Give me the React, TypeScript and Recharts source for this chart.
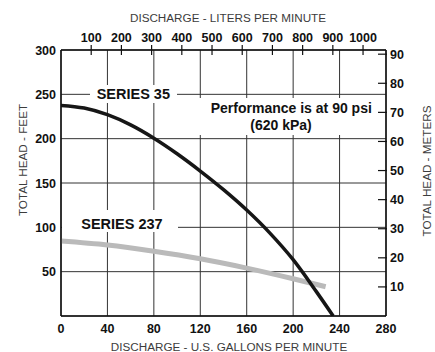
import { ComposedChart, Line, XAxis, YAxis, CartesianGrid } from "recharts";

// axis ticks
const gpmTicks = [0, 40, 80, 120, 160, 200, 240, 280];
const lpmTicks = [100, 200, 300, 400, 500, 600, 700, 800, 900, 1000];
const feetTicks = [50, 100, 150, 200, 250, 300];
const meterTicks = [10, 20, 30, 40, 50, 60, 70, 80, 90];

// pump curves (GPM vs head in feet)
const series35Gpm = [0, 20, 40, 60, 80, 100, 120, 140, 160, 180, 200, 220, 234.5];
const series35Head = [237.5, 234.5, 227, 215.5, 200.5, 183, 163.5, 142.5, 119.5, 93.5, 63.5, 27.5, 0];
const series237Gpm = [0, 40, 80, 120, 160, 200, 228];
const series237Head = [84.5, 80, 73, 64.5, 54, 42, 33];

const series35 = series35Gpm.map((g, i) => ({ gpm: g, head: series35Head[i] }));
const series237 = series237Gpm.map((g, i) => ({ gpm: g, head: series237Head[i] }));

const FONT = '"Liberation Sans", Arial, sans-serif';
const tickStyle = { fontFamily: FONT, fontSize: 12.5, fontWeight: 700, fill: "#111" };
const titleStyle = { fontFamily: FONT, fontSize: 11.7, fill: "#3c3c3c" };
const noteStyle = { fontFamily: FONT, fontSize: 14.5, fontWeight: 700, fill: "#111" };

const BottomTick = (props: any) => (
  <text x={props.x} y={props.y + 16.5} textAnchor="middle" style={tickStyle}>
    {props.payload.value}
  </text>
);

const TopTick = (props: any) => (
  <g>
    <line x1={props.x} x2={props.x} y1={props.y - 5} y2={props.y + 5} stroke="#111" strokeWidth={1.2} />
    <text x={props.x} y={props.y - 8} textAnchor="middle" style={tickStyle}>
      {props.payload.value}
    </text>
  </g>
);

const LeftTick = (props: any) => (
  <text x={props.x - 5} y={props.y + 4.5} textAnchor="end" style={tickStyle}>
    {props.payload.value}
  </text>
);

const RightTick = (props: any) => (
  <g>
    <line x1={props.x - 8} x2={props.x + 1} y1={props.y} y2={props.y} stroke="#111" strokeWidth={1.2} />
    <text x={props.x + 4} y={props.y + 4.5} textAnchor="start" style={tickStyle}>
      {props.payload.value}
    </text>
  </g>
);

export default function App() {
  const axisLine = { stroke: "#111", strokeWidth: 1.5 };
  return (
    <div style={{ position: "fixed", left: 0, top: 0, background: "#fff" }}>
      <ComposedChart width={435} height={352} margin={{ top: 30, right: 19, bottom: 16, left: 21 }}>
        <CartesianGrid stroke="#333" strokeWidth={1} />
        <XAxis
          dataKey="gpm"
          type="number"
          domain={[0, 280]}
          ticks={gpmTicks}
          interval={0}
          allowDataOverflow
          height={20}
          tickSize={0}
          tickMargin={0}
          tickLine={false}
          axisLine={axisLine}
          tick={BottomTick}
        />
        {/* litre scale as printed on the sheet (slightly off 3.785) */}
        <XAxis
          xAxisId="lpm"
          dataKey="lpm"
          orientation="top"
          type="number"
          domain={[0, 1076]}
          ticks={lpmTicks}
          interval={0}
          allowDataOverflow
          height={20}
          tickSize={0}
          tickMargin={0}
          tickLine={false}
          axisLine={axisLine}
          tick={TopTick}
        />
        <YAxis
          type="number"
          domain={[0, 300]}
          ticks={feetTicks}
          interval={0}
          allowDataOverflow
          width={40}
          tickSize={0}
          tickMargin={0}
          tickLine={false}
          axisLine={axisLine}
          tick={LeftTick}
        />
        <YAxis
          yAxisId="m"
          orientation="right"
          type="number"
          domain={[0, 300 * 0.3048]}
          ticks={meterTicks}
          interval={0}
          allowDataOverflow
          width={30}
          tickSize={0}
          tickMargin={0}
          tickLine={false}
          axisLine={axisLine}
          tick={RightTick}
        />

        <rect x={90} y={85} width={87} height={18} fill="#fff" />
        <text x={133.3} y={99} textAnchor="middle" style={noteStyle}>SERIES 35</text>
        <rect x={62} y={210} width={116} height={22} fill="#fff" />
        <text x={122} y={229.3} textAnchor="middle" style={noteStyle}>SERIES 237</text>
        <rect x={199} y={98} width={178} height={37} fill="#fff" />
        <text x={291.3} y={112.5} textAnchor="middle" style={{ ...noteStyle, fontSize: 14 }}>
          Performance is at 90 psi
        </text>
        <text x={281} y={130} textAnchor="middle" style={{ ...noteStyle, fontSize: 14 }}>
          (620 kPa)
        </text>

        <text x={228} y={21.7} textAnchor="middle" style={titleStyle}>DISCHARGE - LITERS PER MINUTE</text>
        <text x={229} y={350.5} textAnchor="middle" style={titleStyle}>DISCHARGE - U.S. GALLONS PER MINUTE</text>
        <text x={22.7} y={160} dy="0.36em" textAnchor="middle" transform="rotate(-90 22.7 160)" style={titleStyle}>
          TOTAL HEAD - FEET
        </text>
        <text x={426.7} y={171} dy="0.36em" textAnchor="middle" transform="rotate(-90 426.7 171)" style={titleStyle}>
          TOTAL HEAD - METERS
        </text>

        <Line
          data={series237}
          dataKey="head"
          type="monotone"
          stroke="#bababa"
          strokeWidth={5}
          dot={false}
          isAnimationActive={false}
        />
        <Line
          data={series35}
          dataKey="head"
          type="monotone"
          stroke="#161616"
          strokeWidth={3.5}
          dot={false}
          isAnimationActive={false}
        />
      </ComposedChart>
    </div>
  );
}
